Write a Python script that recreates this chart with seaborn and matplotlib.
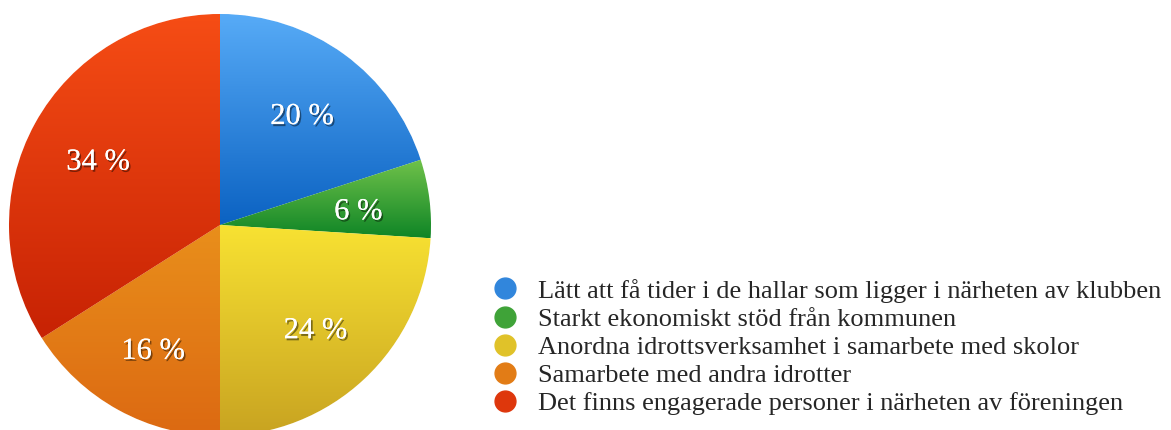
import numpy as np
import matplotlib
matplotlib.use("Agg")
import matplotlib.pyplot as plt
import matplotlib.patheffects as pe
from matplotlib.colors import LinearSegmentedColormap
from matplotlib.lines import Line2D
import seaborn as sns

# data
labels = ['Lätt att få tider i de hallar som ligger i närheten av klubben',
          'Starkt ekonomiskt stöd från kommunen',
          'Anordna idrottsverksamhet i samarbete med skolor',
          'Samarbete med andra idrotter',
          'Det finns engagerade personer i närheten av föreningen']
values = [20, 6, 24, 16, 34]
# top / bottom colour of each slice gradient
top_colors = ['#57abf7', '#70c24a', '#f8e232', '#e98f1b', '#f64d15']
bot_colors = ['#0b62c2', '#0f8526', '#c8a321', '#dc6912', '#c72204']

sns.set_style("white")
plt.rcParams['font.family'] = ['Liberation Serif', 'DejaVu Serif']

fig = plt.figure(figsize=(11.71, 4.30), dpi=100)
ax = fig.add_axes([9/1171, -6/430, 422/1171, 422/430])

wedges, texts, autotexts = ax.pie(values, startangle=90, counterclock=False,
                                  colors=bot_colors, radius=1,
                                  autopct=lambda p: '%d %%' % round(p),
                                  pctdistance=0.66,
                                  textprops=dict(color='white', fontsize=22))

shadow = [pe.withSimplePatchShadow(offset=(1.2, -1.5), shadow_rgbFace='black', alpha=0.45), pe.Normal()]
for t in autotexts:
    t.set_path_effects(shadow)
    t.set_zorder(5)
    x, y = t.get_position()
    t.set_position((x, y - 0.02))

# vertical gradient inside each slice
grad = np.linspace(1, 0, 256).reshape(-1, 1)
for w, c0, c1 in zip(wedges, top_colors, bot_colors):
    th = np.radians(np.linspace(w.theta1, w.theta2, 100))
    xs = np.concatenate([[w.center[0]], w.center[0] + w.r * np.cos(th)])
    ys = np.concatenate([[w.center[1]], w.center[1] + w.r * np.sin(th)])
    cmap = LinearSegmentedColormap.from_list('g', [c1, c0])
    im = ax.imshow(grad, extent=[xs.min(), xs.max(), ys.min(), ys.max()],
                   cmap=cmap, aspect='auto', origin='upper', zorder=2)
    im.set_clip_path(w)

ax.set_xlim(-1, 1)
ax.set_ylim(-1, 1)
ax.set_aspect('equal')
ax.axis('off')

mid_colors = [sns.blend_palette([a, b], 3)[1] for a, b in zip(top_colors, bot_colors)]
handles = [Line2D([], [], marker='o', linestyle='', markersize=15,
                  markerfacecolor=c, markeredgecolor=c) for c in mid_colors]
fig.legend(handles, labels, loc='center left', bbox_to_anchor=(492/1171, 0.193),
           frameon=False, fontsize=19, handletextpad=0.74, labelspacing=0.18,
           handlelength=1.0, borderpad=0, borderaxespad=0)

fig.savefig('out.png', dpi=100)
